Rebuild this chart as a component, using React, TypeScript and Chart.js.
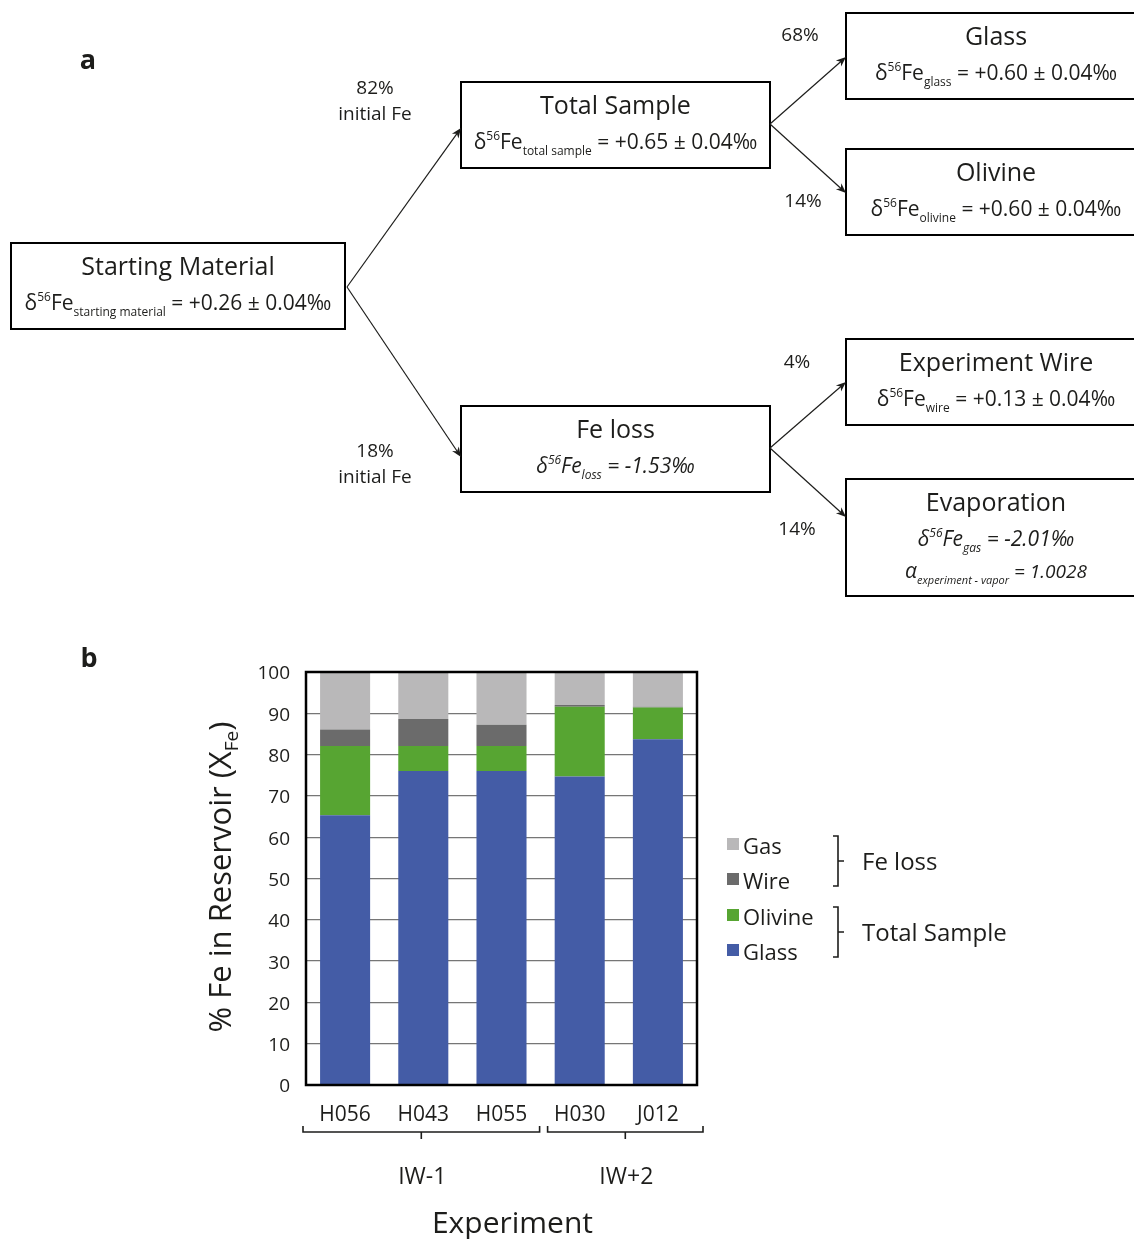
import React, { useEffect, useRef } from "react";
import { Chart, registerables } from "chart.js";

Chart.register(...registerables);

// ---------------- Data ----------------
const categories = ["H056", "H043", "H055", "H030", "J012"];
const glassPct = [65.3, 76.0, 76.0, 74.7, 83.7];
const olivinePct = [16.8, 6.1, 6.1, 16.9, 7.7];
const wirePct = [4.0, 6.5, 5.1, 0.4, 0.2];
const gasPct = [13.9, 11.4, 12.8, 8.0, 8.4];
const seriesLabels = ["Glass", "Olivine", "Wire", "Gas"];
const seriesColors = ["#445ca6", "#57a532", "#6b6b6b", "#b9b8b9"];
const yMin = 0;
const yMax = 100;
const yStep = 10;
const groupLabels = ["IW-1", "IW+2"];
const groupSpans = [[0, 2], [3, 4]];
const legendGroupLabels = ["Fe loss", "Total Sample"];
const legendGroupMembers = [["Gas", "Wire"], ["Olivine", "Glass"]];
const yTitleMain = "% Fe in Reservoir (X";
const yTitleSub = "Fe";
const xTitle = "Experiment";

// Flow diagram text
const nodeIds = ["start", "total", "glass", "olivine", "loss", "wire", "evap"];
const nodeTitles = ["Starting Material", "Total Sample", "Glass", "Olivine", "Fe loss", "Experiment Wire", "Evaporation"];
const nodeSubs = ["starting material", "total sample", "glass", "olivine", "loss", "wire", "gas"];
const nodeValues = ["+0.26 ± 0.04‰", "+0.65 ± 0.04‰", "+0.60 ± 0.04‰", "+0.60 ± 0.04‰", "-1.53‰", "+0.13 ± 0.04‰", "-2.01‰"];
const nodeItalic = [false, false, false, false, true, false, true];
const alphaSub = "experiment - vapor";
const alphaValue = "1.0028";
const flowFrom = ["start", "start", "total", "total", "loss", "loss"];
const flowTo = ["total", "loss", "glass", "olivine", "wire", "evap"];
const flowPct = ["82%", "18%", "68%", "14%", "4%", "14%"];
const flowNote = ["initial Fe", "initial Fe", "", "", "", ""];

// ---------------- Layout / style ----------------
const FONT = '"Open Sans", "DejaVu Sans", sans-serif';
const INK = "#1d1d1b";
const W = 1134;
const H = 1239;
const boxRects: Record<string, number[]> = {
  start: [11, 243, 334, 86],
  total: [461, 82, 309, 86],
  glass: [846, 13, 300, 86],
  olivine: [846, 149, 300, 86],
  loss: [461, 406, 309, 86],
  wire: [846, 339, 300, 86],
  evap: [846, 479, 300, 117],
};
const arrowStart: Record<string, number[]> = {
  start: [347, 287],
  total: [770, 124],
  loss: [770, 448],
};
const arrowEnd: Record<string, number[]> = {
  total: [461, 128],
  loss: [461, 457],
  glass: [846, 57],
  olivine: [846, 193],
  wire: [846, 382],
  evap: [846, 517],
};
const pctPos = [
  [375, 87],
  [375, 450],
  [800, 34],
  [803, 200],
  [797, 361],
  [797, 528],
];

type Seg = { t: string; s: number; dy?: number; it?: boolean };

function setFont(ctx: CanvasRenderingContext2D, s: number, it?: boolean, bold?: boolean) {
  ctx.font = `${it ? "italic " : ""}${bold ? "bold " : ""}${s}px ${FONT}`;
}

function drawRich(ctx: CanvasRenderingContext2D, segs: Seg[], cx: number, baseY: number) {
  let w = 0;
  const widths: number[] = [];
  for (const sg of segs) {
    setFont(ctx, sg.s, sg.it);
    const m = ctx.measureText(sg.t).width;
    widths.push(m);
    w += m;
  }
  let x = cx - w / 2;
  ctx.textAlign = "left";
  ctx.textBaseline = "alphabetic";
  segs.forEach((sg, i) => {
    setFont(ctx, sg.s, sg.it);
    ctx.fillText(sg.t, x, baseY + (sg.dy || 0));
    x += widths[i];
  });
}

function feFormula(sub: string, val: string, it: boolean): Seg[] {
  return [
    { t: "δ", s: 21, it },
    { t: "56", s: 12, dy: -9, it },
    { t: "Fe", s: 21, it },
    { t: sub, s: 12, dy: 6, it },
    { t: " = " + val, s: 21, it },
  ];
}

function drawText(ctx: CanvasRenderingContext2D, t: string, x: number, y: number, s: number, align: CanvasTextAlign = "center", bold = false) {
  setFont(ctx, s, false, bold);
  ctx.textAlign = align;
  ctx.textBaseline = "middle";
  ctx.fillText(t, x, y + 2);
}

function drawArrow(ctx: CanvasRenderingContext2D, x1: number, y1: number, x2: number, y2: number) {
  const ang = Math.atan2(y2 - y1, x2 - x1);
  const len = 10;
  const hw = 4;
  ctx.beginPath();
  ctx.moveTo(x1, y1);
  ctx.lineTo(x2 - Math.cos(ang) * 6, y2 - Math.sin(ang) * 6);
  ctx.stroke();
  ctx.beginPath();
  ctx.moveTo(x2, y2);
  ctx.lineTo(x2 - Math.cos(ang) * len + Math.sin(ang) * hw, y2 - Math.sin(ang) * len - Math.cos(ang) * hw);
  ctx.lineTo(x2 - Math.cos(ang) * (len - 3), y2 - Math.sin(ang) * (len - 3));
  ctx.lineTo(x2 - Math.cos(ang) * len - Math.sin(ang) * hw, y2 - Math.sin(ang) * len + Math.cos(ang) * hw);
  ctx.closePath();
  ctx.fill();
}

const framePlugin = {
  id: "frame",
  afterDatasetsDraw(chart: any) {
    const { ctx, chartArea: a } = chart;
    ctx.save();
    ctx.strokeStyle = "#000";
    ctx.lineWidth = 2.5;
    ctx.strokeRect(a.left, a.top, a.right - a.left, a.bottom - a.top);
    ctx.restore();
  },
};

const decorPlugin = {
  id: "decor",
  afterDraw(chart: any) {
    const ctx: CanvasRenderingContext2D = chart.ctx;
    const a = chart.chartArea;
    const xs = chart.scales.x;
    ctx.save();
    ctx.fillStyle = INK;
    ctx.strokeStyle = INK;

    // panel letters
    drawText(ctx, "a", 88, 59, 27, "center", true);
    drawText(ctx, "b", 89, 657, 27, "center", true);

    // ----- Flow diagram -----
    ctx.lineWidth = 2;
    ctx.strokeStyle = "#000";
    nodeIds.forEach((id, i) => {
      const [x, y, w, h] = boxRects[id];
      ctx.strokeRect(x, y, w, h);
      const cx = id === "start" || id === "total" || id === "loss" ? x + w / 2 : 996;
      ctx.fillStyle = INK;
      drawText(ctx, nodeTitles[i], cx, y + 23, 25);
      drawRich(ctx, feFormula(nodeSubs[i], nodeValues[i], nodeItalic[i]), cx, y + 59 + 8);
      if (id === "evap") {
        drawRich(
          ctx,
          [
            { t: "α", s: 21, it: true },
            { t: alphaSub, s: 11, dy: 6, it: true },
            { t: " = " + alphaValue, s: 19, it: true },
          ],
          cx,
          y + 92 + 7
        );
      }
    });

    ctx.lineWidth = 1.2;
    ctx.strokeStyle = INK;
    ctx.fillStyle = INK;
    flowFrom.forEach((f, i) => {
      const [x1, y1] = arrowStart[f];
      const [x2, y2] = arrowEnd[flowTo[i]];
      drawArrow(ctx, x1, y1, x2, y2);
      const [px, py] = pctPos[i];
      drawText(ctx, flowPct[i], px, py, 19);
      if (flowNote[i]) drawText(ctx, flowNote[i], px, py + 26, 19);
    });

    // ----- Y axis title with subscript -----
    ctx.save();
    ctx.translate(231, 877);
    ctx.rotate(-Math.PI / 2);
    drawRich(
      ctx,
      [
        { t: yTitleMain, s: 31 },
        { t: yTitleSub, s: 19, dy: 7 },
        { t: ")", s: 31 },
      ],
      0,
      0
    );
    ctx.restore();

    // ----- Group brackets -----
    const cw = xs.getPixelForValue(1) - xs.getPixelForValue(0);
    ctx.lineWidth = 1.6;
    ctx.strokeStyle = INK;
    const by = 1132;
    groupSpans.forEach(([s, e], gi) => {
      const l = xs.getPixelForValue(s) - cw / 2 + (gi === 0 ? -3 : 7);
      const r = xs.getPixelForValue(e) + cw / 2 + (gi === 0 ? -1 : 6);
      const mid = (l + r) / 2;
      ctx.beginPath();
      ctx.moveTo(l, by - 6);
      ctx.lineTo(l, by);
      ctx.lineTo(r, by);
      ctx.lineTo(r, by - 6);
      ctx.moveTo(mid, by);
      ctx.lineTo(mid, by + 7);
      ctx.stroke();
      drawText(ctx, groupLabels[gi], mid + 1, 1175, 23);
    });

    drawText(ctx, xTitle, (a.left + a.right) / 2 + 11, 1222, 30);

    // ----- Legend -----
    const ds = chart.data.datasets;
    const rowY = [846, 881, 917, 952];
    let row = 0;
    const lx = 727;
    legendGroupMembers.forEach((members, gi) => {
      const ys: number[] = [];
      members.forEach((name) => {
        const d = ds.find((q: any) => q.label === name);
        const y = rowY[row++];
        ys.push(y);
        ctx.fillStyle = d.backgroundColor;
        ctx.fillRect(lx, y - 8, 12, 12);
        ctx.fillStyle = INK;
        drawText(ctx, d.label, lx + 16, y, 22, "left");
      });
      const top = ys[0] - 10;
      const bot = ys[ys.length - 1] + 5;
      const mid = (top + bot) / 2;
      ctx.lineWidth = 1.6;
      ctx.beginPath();
      ctx.moveTo(833, top);
      ctx.lineTo(838, top);
      ctx.lineTo(838, bot);
      ctx.lineTo(833, bot);
      ctx.moveTo(838, mid);
      ctx.lineTo(844, mid);
      ctx.stroke();
      drawText(ctx, legendGroupLabels[gi], 862, mid, 24, "left");
    });

    ctx.restore();
  },
};

export default function App() {
  const ref = useRef<HTMLCanvasElement | null>(null);
  useEffect(() => {
    if (!ref.current) return;
    const values = [glassPct, olivinePct, wirePct, gasPct];
    const chart = new Chart(ref.current, {
      type: "bar",
      data: {
        labels: categories,
        datasets: seriesLabels.map((lab, i) => ({
          label: lab,
          data: values[i],
          backgroundColor: seriesColors[i],
          borderWidth: 0,
          barPercentage: 0.64,
          categoryPercentage: 1,
        })),
      },
      options: {
        responsive: false,
        animation: false,
        devicePixelRatio: 1,
        layout: { padding: { top: 672, left: 0, right: W - 697, bottom: H - 1085 - 40 } },
        plugins: {
          legend: { display: false },
          tooltip: { enabled: false },
          title: { display: false },
        },
        scales: {
          x: {
            stacked: true,
            grid: { display: false, drawTicks: false },
            border: { display: false },
            ticks: { color: INK, font: { family: FONT, size: 21 }, padding: 17 },
            afterFit: (s: any) => {
              s.height = 40;
            },
          },
          y: {
            stacked: true,
            min: yMin,
            max: yMax,
            ticks: { stepSize: yStep, color: INK, font: { family: FONT, size: 19 }, padding: 16, labelOffset: 2 },
            grid: { color: "#767676", lineWidth: 1.2, drawTicks: false },
            border: { display: false },
            afterFit: (s: any) => {
              s.width = 306;
            },
          },
        },
      } as any,
      plugins: [framePlugin, decorPlugin],
    });
    return () => chart.destroy();
  }, []);
  return (
    <div style={{ position: "absolute", left: 0, top: 0, width: W, height: H, background: "#fff" }}>
      <canvas ref={ref} width={W} height={H} style={{ display: "block" }} />
    </div>
  );
}
